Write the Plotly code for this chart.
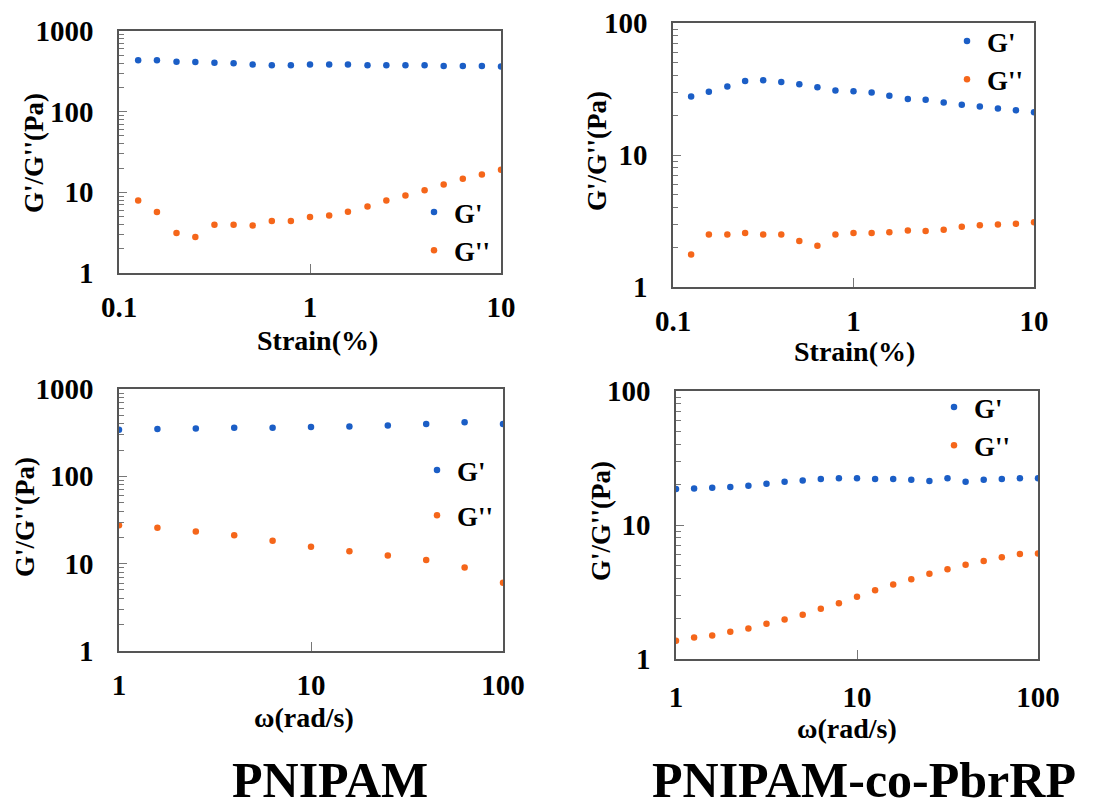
import plotly.graph_objects as go

# ---------------- data ----------------
strain = [0.126, 0.158, 0.2, 0.251, 0.316, 0.398, 0.501, 0.631, 0.794, 1.0,
          1.26, 1.58, 2.0, 2.51, 3.16, 3.98, 5.01, 6.31, 7.94, 10.0]
pn_strain_gp = [433, 433, 417, 413, 405, 398, 383, 376, 376, 383,
                383, 383, 376, 376, 376, 376, 369, 369, 369, 362]
pn_strain_gpp = [7.93, 5.69, 3.13, 2.79, 3.96, 3.96, 3.89, 4.40, 4.40, 4.93,
                 5.17, 5.74, 6.68, 7.93, 9.15, 10.6, 12.5, 14.7, 16.6, 19.0]
co_strain_gp = [27.7, 30.1, 33.0, 36.3, 36.9, 35.8, 34.4, 32.6, 30.8, 30.4,
                29.7, 28.1, 26.6, 26.2, 25.0, 24.0, 23.3, 22.5, 21.8, 21.1]
co_strain_gpp = [1.76, 2.50, 2.50, 2.57, 2.50, 2.50, 2.23, 2.05, 2.50, 2.57,
                 2.57, 2.60, 2.68, 2.66, 2.71, 2.86, 2.94, 2.97, 3.01, 3.10]

omega_pn = [1.0, 1.585, 2.512, 3.981, 6.31, 10.0, 15.85, 25.12, 39.81, 63.1, 100.0]
pn_omega_gp = [342, 348, 354, 360, 360, 367, 373, 383, 397, 415, 397]
pn_omega_gpp = [27.6, 25.7, 23.4, 21.2, 18.3, 15.6, 13.9, 12.4, 11.0, 9.03, 6.03]

omega_co = [1.0, 1.259, 1.585, 1.995, 2.512, 3.162, 3.981, 5.012, 6.31, 7.943, 10.0,
            12.59, 15.85, 19.95, 25.12, 31.62, 39.81, 50.12, 63.1, 79.43, 100.0]
co_omega_gp = [18.6, 18.7, 19.0, 19.2, 19.6, 20.3, 21.0, 21.5, 22.0, 22.3, 22.3,
               22.0, 22.0, 21.8, 21.3, 22.3, 21.0, 21.8, 22.0, 22.3, 22.3]
co_omega_gpp = [1.37, 1.45, 1.50, 1.60, 1.69, 1.83, 1.97, 2.14, 2.37, 2.61, 2.91,
                3.26, 3.59, 3.94, 4.32, 4.68, 5.04, 5.39, 5.74, 6.08, 6.12]

series_names = ["G'", "G''"]
strain_ticks = [0.1, 1, 10]
strain_ticktext = ["0.1", "1", "10"]
omega_ticks = [1, 10, 100]
omega_ticktext = ["1", "10", "100"]
y3_ticks = [1, 10, 100, 1000]
y3_ticktext = ["1", "10", "100", "1000"]
y2_ticks = [1, 10, 100]
y2_ticktext = ["1", "10", "100"]
sample_names = ["PNIPAM", "PNIPAM-co-PbrRP"]
x_titles = ["Strain(%)", "Strain(%)", "ω(rad/s)", "ω(rad/s)"]
y_title = "G'/G''(Pa)"

# ---------------- style ----------------
W, H = 1094, 810
BLUE = "#1b5ec6"
ORANGE = "#f5661a"
FONT = "Liberation Serif"
AXC = "#555555"


def fx(px):
    return px / W


def fy(py):
    return 1 - py / H


# panel boxes in pixels: (left, right, top, bottom)
boxes = [(119, 501, 31, 273), (673, 1034, 23, 287),
         (119, 503, 389, 651), (676, 1038, 391, 659)]

fig = go.Figure()

panels = [
    (strain, pn_strain_gp, pn_strain_gpp),
    (strain, co_strain_gp, co_strain_gpp),
    (omega_pn, pn_omega_gp, pn_omega_gpp),
    (omega_co, co_omega_gp, co_omega_gpp),
]

legend_names = ["legend", "legend2", "legend3", "legend4"]
for i, (xv, gp, gpp) in enumerate(panels):
    xa = "x" if i == 0 else f"x{i+1}"
    ya = "y" if i == 0 else f"y{i+1}"
    for name, vals, col in zip(series_names, [gp, gpp], [BLUE, ORANGE]):
        fig.add_trace(go.Scatter(
            x=xv, y=vals, mode="markers", name=name,
            marker=dict(color=col, size=6.5),
            xaxis=xa, yaxis=ya, legend=legend_names[i],
            legendgroup=f"{i}-{name}",
        ))


def minor_vals(decades):
    out = []
    for d in decades:
        out += [k * 10 ** d for k in range(2, 10)]
    return out


axis_common = dict(
    type="log", showgrid=False, zeroline=False, automargin=False,
    showline=True, linecolor=AXC, linewidth=1.5, mirror=True,
    ticks="inside", tickcolor="#777777", ticklen=9, tickwidth=1.2,
    tickfont=dict(family=FONT, size=29, color="black", weight="bold"),
)

layout = {}
for i, (l, r, t, b) in enumerate(boxes):
    xk = "xaxis" if i == 0 else f"xaxis{i+1}"
    yk = "yaxis" if i == 0 else f"yaxis{i+1}"
    xa = "x" if i == 0 else f"x{i+1}"
    ya = "y" if i == 0 else f"y{i+1}"
    if i < 2:
        xt, xtt, xr = strain_ticks, strain_ticktext, [-1, 1]
    else:
        xt, xtt, xr = omega_ticks, omega_ticktext, [0, 2]
    if i in (0, 2):
        yt, ytt, yr, dec = y3_ticks, y3_ticktext, [0, 3], [0, 1, 2]
    else:
        yt, ytt, yr, dec = y2_ticks, y2_ticktext, [0, 2], [0, 1]
    layout[xk] = dict(axis_common, domain=[fx(l), fx(r)], anchor=ya,
                      range=xr, tickvals=xt, ticktext=xtt,
                      ticklabelstandoff=7 if i < 3 else 11)
    layout[yk] = dict(axis_common, domain=[fy(b), fy(t)], anchor=xa,
                      range=yr, tickvals=yt, ticktext=ytt, ticklen=8,
                      ticklabelstandoff=18,
                      minor=dict(tickvals=minor_vals(dec), ticks="inside",
                                 ticklen=5, tickcolor="#777777",
                                 tickwidth=1.2, showgrid=False))

# legends (marker centre px, first item y px, item gap)
leg_pos = [(436, 215, 0), (969, 44, 0), (439, 473, 7), (956, 410, 0)]
for i, (mx, my, gap) in enumerate(leg_pos):
    layout[legend_names[i]] = dict(
        x=fx(mx - 22), y=fy(my - 27), xanchor="left", yanchor="top",
        bgcolor="rgba(0,0,0,0)",
        font=dict(family=FONT, size=27, color="black", weight="bold"),
        tracegroupgap=gap, itemwidth=30,
    )

annotations = []
xt_pos = [(317, 341), (854, 351), (304, 717), (847, 728)]
yt_pos = [(34, 153), (597, 151), (25, 517), (601, 521)]
for i in range(4):
    annotations.append(dict(
        text=x_titles[i], x=fx(xt_pos[i][0]), y=fy(xt_pos[i][1]),
        xref="paper", yref="paper", showarrow=False,
        xanchor="center", yanchor="middle",
        font=dict(family=FONT, size=28, color="black", weight="bold")))
    annotations.append(dict(
        text=y_title, x=fx(yt_pos[i][0]), y=fy(yt_pos[i][1]),
        xref="paper", yref="paper", showarrow=False, textangle=-90,
        xanchor="center", yanchor="middle",
        font=dict(family=FONT, size=27, color="black", weight="bold")))

for name, cx in zip(sample_names, [330, 864]):
    annotations.append(dict(
        text=name, x=fx(cx), y=fy(780), xref="paper", yref="paper",
        showarrow=False, xanchor="center", yanchor="middle",
        font=dict(family=FONT, size=50, color="black", weight="bold")))

fig.update_layout(
    width=W, height=H,
    margin=dict(l=0, r=0, t=0, b=0, pad=0, autoexpand=False),
    paper_bgcolor="white", plot_bgcolor="white",
    showlegend=True, annotations=annotations, **layout,
)

fig.write_html("out.html", config={"displayModeBar": False},
               post_script="document.body.style.margin='0px';"
                           "document.body.style.overflow='hidden';")
